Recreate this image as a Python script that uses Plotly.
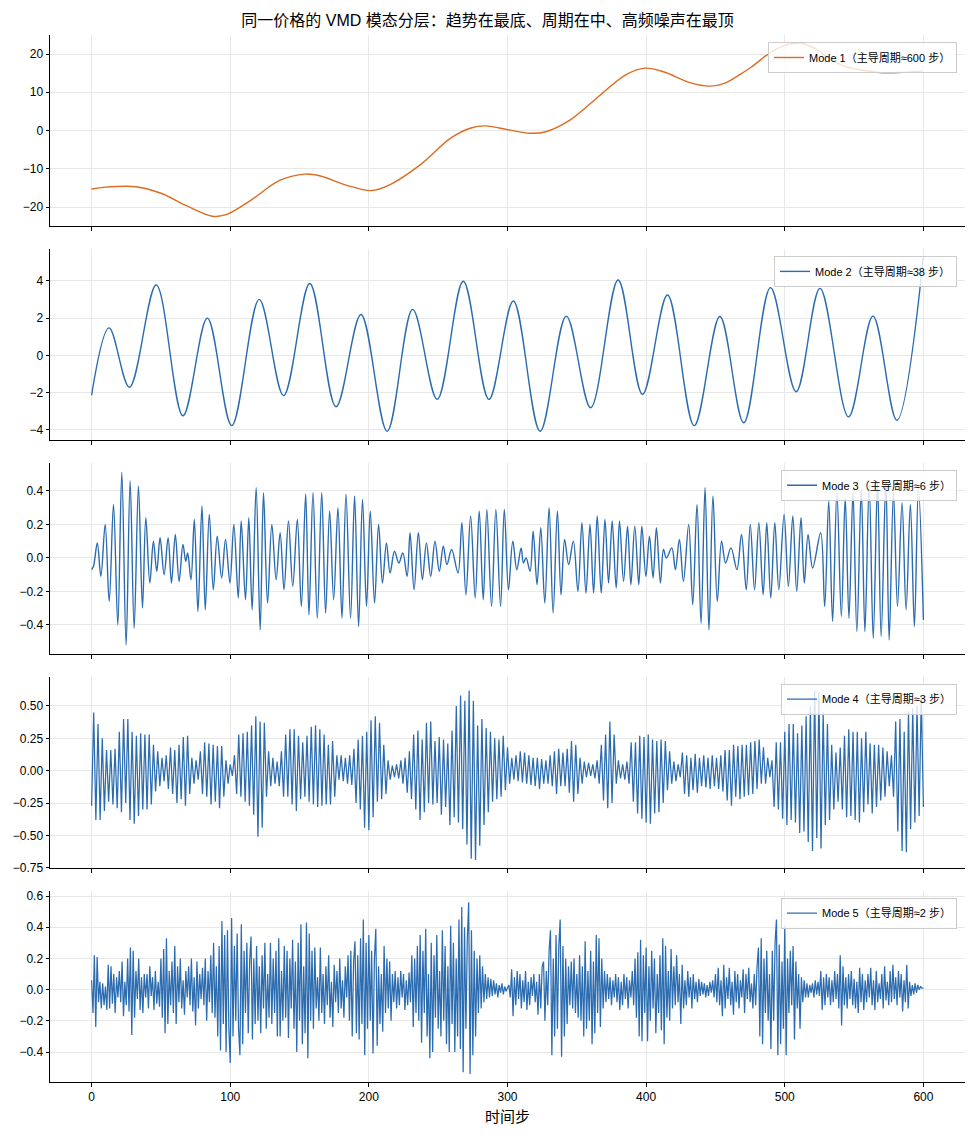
import numpy as np
import plotly.graph_objects as go
from plotly.subplots import make_subplots

# ---------------- text ----------------
title_text = "同一价格的 VMD 模态分层：趋势在最底、周期在中、高频噪声在最顶"
x_label = "时间步"
mode_names = [
    "Mode 1（主导周期≈600 步）",
    "Mode 2（主导周期≈38 步）",
    "Mode 3（主导周期≈6 步）",
    "Mode 4（主导周期≈3 步）",
    "Mode 5（主导周期≈2 步）",
]
x_ticks = [0, 100, 200, 300, 400, 500, 600]

# ---------------- data ----------------
# Mode 1: trend, (step, value) knots
mode1_points = [
    (0, -15.3), (10, -14.8), (32, -14.7), (50, -16.4), (68, -19.6), (87, -22.4),
    (97, -22.0), (115, -18.2), (136, -13.0), (154, -11.4), (165, -11.9),
    (183, -14.2), (202, -15.7), (215, -14.2), (237, -9.0), (259, -2.0),
    (273, 0.6), (284, 1.2), (302, 0.1), (316, -0.7), (327, -0.4), (345, 2.7),
    (367, 9.3), (385, 14.5), (399, 16.3), (413, 15.3), (431, 12.6),
    (446, 11.6), (457, 12.4), (467, 14.5), (476, 16.6), (487, 19.7),
    (498, 22.0), (511, 22.8), (522, 21.4), (532, 18.8), (543, 16.8),
    (552, 16.0), (571, 15.1), (585, 15.2), (600, 15.6),
]

# Mode 2: period ~38 steps, extrema (step, value)
mode2_points = [
    (0, -2.13), (12.6, 1.48), (27.3, -1.71), (46.6, 3.78), (65.9, -3.24),
    (83.5, 2.00), (101.1, -3.77), (120.9, 3.01), (138.5, -2.16), (157.4, 3.86),
    (176.3, -2.76), (194.3, 2.20), (213.2, -4.07), (231.6, 2.47), (249.3, -2.36),
    (268.1, 3.98), (286.6, -2.36), (304.2, 2.92), (323.5, -4.07), (342.4, 2.11),
    (360.0, -2.81), (379.8, 4.05), (397.4, -2.09), (415.4, 3.24), (434.7, -3.77),
    (453.2, 2.09), (470.4, -3.62), (489.7, 3.64), (508.2, -1.95), (525.4, 3.60),
    (546.0, -3.30), (563.6, 2.11), (580.8, -3.48), (600.0, 5.30),
]

# Mode 3: period ~6 steps, extrema (step, value)
mode3_points = [
    (0, -0.07), (1.4, -0.05), (4.1, 0.09), (6.7, -0.11), (9.8, 0.20), (12.7, -0.26),
    (15.8, 0.32), (18.9, -0.40), (21.8, 0.51), (24.9, -0.52), (27.8, 0.46),
    (30.7, -0.42), (33.8, 0.43), (36.7, -0.30), (39.1, 0.24), (42.0, -0.15),
    (44.6, 0.10), (47.0, -0.08), (49.4, 0.12), (52.3, -0.10), (55.2, 0.12),
    (57.6, -0.15), (60.4, 0.14), (63.1, -0.14), (65.9, 0.08), (67.9, -0.02),
    (69.3, 0.03), (71.7, -0.13), (74.1, 0.23), (76.7, -0.32), (79.6, 0.31),
    (82.0, -0.31), (84.9, 0.26), (87.8, -0.19), (90.6, 0.13), (93.8, -0.12),
    (96.6, 0.11), (99.8, -0.15), (102.6, 0.20), (105.8, -0.24), (107.9, 0.22),
    (111.0, -0.25), (113.4, 0.24), (115.8, -0.31), (118.7, 0.42), (121.6, -0.43),
    (124.0, 0.39), (126.9, -0.27), (130.0, 0.20), (133.1, -0.13), (136.0, 0.15),
    (138.8, -0.19), (142.0, 0.22), (145.1, -0.17), (148.4, 0.23), (151.3, -0.29),
    (154.4, 0.38), (156.8, -0.34), (159.7, 0.39), (162.8, -0.36), (166.0, 0.39),
    (168.8, -0.33), (171.7, 0.28), (174.6, -0.25), (177.7, 0.30), (180.6, -0.36),
    (183.5, 0.38), (186.8, -0.36), (189.7, 0.37), (192.6, -0.41), (195.4, 0.35),
    (198.3, -0.29), (201.0, 0.28), (204.1, -0.27), (207.0, 0.20), (209.8, -0.15),
    (212.7, 0.09), (215.3, -0.09), (218.5, 0.04), (221.6, -0.03), (224.5, 0.03),
    (227.6, -0.11), (229.7, 0.15), (232.6, -0.19), (235.7, 0.15), (238.6, -0.13),
    (241.5, 0.09), (244.6, -0.11), (247.7, 0.10), (250.8, -0.08), (253.7, 0.07),
    (256.3, -0.04), (259.7, 0.05), (264.3, -0.09), (267.1, 0.21), (270.0, -0.22),
    (273.4, 0.25), (276.7, -0.24), (279.6, 0.28), (282.5, -0.25), (285.1, 0.29),
    (288.5, -0.29), (291.6, 0.29), (295.0, -0.29), (297.7, 0.29), (300.7, -0.19),
    (303.8, 0.10), (306.7, -0.07), (309.8, 0.06), (311.5, -0.03), (313.4, 0.00),
    (316.3, -0.08), (318.5, 0.16), (321.3, -0.16), (324.0, 0.18), (326.9, -0.27),
    (330.0, 0.30), (332.9, -0.33), (336.0, 0.28), (338.6, -0.22), (341.2, 0.11),
    (344.1, -0.04), (347.5, 0.10), (350.8, -0.20), (353.7, 0.21), (356.6, -0.21),
    (359.5, 0.20), (362.1, -0.21), (364.7, 0.25), (367.6, -0.21), (370.3, 0.23),
    (372.9, -0.15), (375.5, 0.22), (378.4, -0.18), (380.8, 0.22), (383.7, -0.14),
    (386.6, 0.19), (389.0, -0.16), (391.8, 0.19), (394.7, -0.16), (396.9, 0.19),
    (399.8, -0.11), (402.4, 0.13), (405.0, -0.12), (407.4, 0.18), (410.3, -0.15),
    (412.5, 0.05), (414.6, 0.00), (418.5, 0.06), (421.1, -0.07), (424.0, 0.11),
    (426.9, -0.14), (430.7, 0.20), (433.6, -0.28), (436.7, 0.32), (439.6, -0.39),
    (442.5, 0.42), (445.3, -0.43), (448.2, 0.37), (451.3, -0.26), (454.4, 0.10),
    (457.3, -0.03), (461.2, 0.06), (465.5, -0.07), (468.8, 0.14), (472.2, -0.19),
    (475.1, 0.20), (478.2, -0.19), (481.3, 0.21), (484.4, -0.22), (487.0, 0.21),
    (489.9, -0.24), (492.8, 0.21), (495.7, -0.19), (499.5, 0.26), (502.6, -0.17),
    (505.8, 0.25), (508.6, -0.20), (511.7, 0.24), (514.1, -0.15), (516.8, 0.14),
    (520.1, -0.06), (525.9, 0.15), (528.8, -0.29), (531.7, 0.34), (534.5, -0.38),
    (537.6, 0.39), (540.8, -0.35), (543.6, 0.36), (546.3, -0.36), (549.2, 0.39),
    (552.0, -0.44), (555.2, 0.41), (557.8, -0.44), (560.9, 0.44), (563.8, -0.48),
    (566.9, 0.45), (569.5, -0.47), (572.9, 0.46), (575.3, -0.49), (578.4, 0.39),
    (581.3, -0.29), (584.6, 0.33), (587.5, -0.31), (590.6, 0.32), (593.5, -0.41),
    (596.4, 0.42), (600.0, -0.37),
]

# Mode 4: period ~3 steps; alternating extrema, each row spans 20 steps
mode4_rows = [
    [-0.27, 0.45, -0.38, 0.36, -0.38, 0.25, -0.31, 0.16, -0.24, 0.16, -0.26, 0.17, -0.29],
    [0.30, -0.32, 0.40, -0.25, 0.40, -0.38, 0.30, -0.41, 0.27, -0.35, 0.29, -0.30, 0.28],
    [-0.30, 0.28, -0.26, 0.20, -0.16, 0.15, -0.12, 0.10, -0.08, 0.12, -0.14, 0.18, -0.18],
    [0.16, -0.25, 0.20, -0.22, 0.26, -0.27, 0.27, -0.18, 0.10, -0.10, 0.08, -0.07, 0.15],
    [-0.18, 0.22, -0.20, 0.21, -0.26, 0.20, -0.24, 0.19, -0.29, 0.19, -0.20, 0.08, -0.10],
    [0.05, -0.04, 0.12, -0.18, 0.28, -0.20, 0.29, -0.24, 0.30, -0.27, 0.35, -0.34, 0.42],
    [-0.51, 0.38, -0.44, 0.37, -0.20, 0.15, -0.12, 0.10, -0.10, 0.07, -0.12, 0.15, -0.20],
    [0.28, -0.20, 0.32, -0.26, 0.32, -0.31, 0.27, -0.22, 0.22, -0.20, 0.27, -0.24, 0.34],
    [-0.26, 0.35, -0.28, 0.32, -0.27, 0.28, -0.26, 0.20, -0.26, 0.23, -0.20, 0.12, -0.07],
    [0.12, -0.08, 0.10, -0.10, 0.12, -0.11, 0.17, -0.25, 0.24, -0.30, 0.27, -0.44, 0.30],
    [-0.46, 0.39, -0.36, 0.42, -0.24, 0.37, -0.22, 0.20, -0.18, 0.08, -0.07, 0.04, -0.05],
    [0.05, -0.06, 0.08, -0.10, 0.10, -0.17, 0.15, -0.22, 0.28, -0.30, 0.31, -0.38, 0.24],
    [-0.32, 0.37, -0.25, 0.38, -0.26, 0.23, -0.25, 0.26, -0.34, 0.24, -0.28, 0.21, -0.42],
    [0.31, -0.36, 0.50, -0.40, 0.58, -0.45, 0.54, -0.57, 0.62, -0.68, 0.54, -0.69, 0.35],
    [-0.58, 0.40, -0.42, 0.33, -0.32, 0.30, -0.24, 0.25, -0.22, 0.24, -0.20, 0.27, -0.15],
    [0.18, -0.10, 0.10, -0.07, 0.12, -0.08, 0.15, -0.09, 0.14, -0.10, 0.12, -0.11, 0.10],
    [-0.12, 0.10, -0.14, 0.09, -0.10, 0.08, -0.10, 0.12, -0.12, 0.15, -0.18, 0.17, -0.12],
    [0.14, -0.12, 0.17, -0.17, 0.23, -0.24, 0.20, -0.18, 0.10, -0.10, 0.07, -0.05, 0.06],
    [-0.04, 0.05, -0.06, 0.08, -0.10, 0.20, -0.23, 0.28, -0.29, 0.38, -0.25, 0.28, -0.10],
    [0.08, -0.06, 0.05, -0.07, 0.07, -0.10, 0.22, -0.24, 0.22, -0.33, 0.27, -0.37, 0.26],
    [-0.40, 0.28, -0.41, 0.24, -0.33, 0.23, -0.32, 0.24, -0.25, 0.23, -0.15, 0.15, -0.10],
    [0.07, -0.08, 0.05, -0.05, 0.14, -0.18, 0.12, -0.20, 0.10, -0.15, 0.13, -0.17, 0.10],
    [-0.12, 0.12, -0.13, 0.10, -0.14, 0.12, -0.12, 0.10, -0.14, 0.12, -0.16, 0.16, -0.23],
    [0.16, -0.27, 0.20, -0.20, 0.19, -0.22, 0.20, -0.20, 0.20, -0.19, 0.22, -0.18, 0.23],
    [-0.14, 0.24, -0.10, 0.18, -0.10, 0.10, -0.05, 0.08, -0.28, 0.22, -0.30, 0.22, -0.37],
    [0.30, -0.42, 0.36, -0.38, 0.36, -0.40, 0.29, -0.48, 0.35, -0.47, 0.42, -0.55, 0.50],
    [-0.62, 0.62, -0.52, 0.60, -0.60, 0.45, -0.42, 0.36, -0.38, 0.20, -0.30, 0.14, -0.24],
    [0.18, -0.30, 0.27, -0.36, 0.32, -0.35, 0.30, -0.38, 0.30, -0.40, 0.25, -0.32, 0.30],
    [-0.26, 0.21, -0.33, 0.20, -0.28, 0.20, -0.23, 0.18, -0.20, 0.15, -0.12, 0.12, -0.20],
    [0.38, -0.47, 0.40, -0.62, 0.30, -0.63, 0.46, -0.45, 0.48, -0.40, 0.50, -0.35, 0.58],
    [-0.28],
]

# Mode 5: period ~2 steps; one value per step, each row = 20 steps
mode5_rows = [
    [0.06, -0.15, 0.22, -0.24, 0.21, -0.08, 0.05, -0.12, 0.04, -0.10, 0.02, -0.13, 0.16, -0.12, 0.15, -0.09, 0.10, -0.15, 0.08, -0.05],
    [0.12, -0.08, 0.18, -0.17, 0.05, -0.10, 0.20, -0.14, 0.27, -0.29, 0.25, -0.18, 0.12, -0.06, 0.20, -0.13, 0.08, -0.15, 0.10, -0.05],
    [0.10, -0.12, 0.15, -0.04, 0.08, -0.13, 0.12, -0.09, 0.05, -0.11, 0.20, -0.18, 0.26, -0.28, 0.33, -0.22, 0.12, -0.10, 0.18, -0.15],
    [0.28, -0.22, 0.15, -0.08, 0.20, -0.12, 0.06, -0.16, 0.12, -0.05, 0.15, -0.10, 0.20, -0.14, 0.08, -0.23, 0.18, -0.12, 0.10, -0.06],
    [0.14, -0.10, 0.20, -0.20, 0.12, -0.08, 0.22, -0.15, 0.30, -0.18, 0.15, -0.30, 0.28, -0.39, 0.44, -0.22, 0.35, -0.40, 0.38, -0.25],
    [-0.47, 0.46, -0.30, 0.28, -0.20, 0.36, -0.25, -0.42, 0.42, -0.35, 0.25, -0.15, 0.30, -0.28, 0.18, 0.34, -0.32, 0.20, -0.22, 0.28],
    [-0.20, 0.15, -0.28, 0.22, -0.12, 0.30, -0.25, 0.10, -0.18, 0.30, -0.22, 0.20, -0.15, 0.25, -0.30, 0.33, -0.30, 0.12, -0.20, 0.28],
    [-0.18, 0.25, -0.31, 0.20, -0.12, 0.32, -0.25, 0.18, -0.40, 0.30, -0.20, 0.42, -0.35, 0.15, -0.28, 0.43, -0.44, 0.36, -0.20, 0.25],
    [-0.25, 0.27, -0.12, 0.08, -0.20, 0.27, -0.15, 0.10, -0.22, 0.15, -0.10, 0.22, -0.18, 0.05, -0.24, 0.16, -0.08, 0.12, -0.15, 0.20],
    [-0.12, 0.06, -0.18, 0.15, -0.05, 0.22, -0.20, 0.25, -0.30, 0.18, 0.31, -0.28, 0.22, -0.32, 0.33, -0.22, 0.45, -0.42, 0.30, -0.25],
    [0.35, -0.20, 0.25, -0.41, 0.20, 0.39, -0.36, 0.15, -0.22, 0.10, -0.27, 0.28, -0.15, 0.20, -0.12, 0.18, -0.20, 0.10, -0.08, 0.12],
    [-0.12, 0.08, -0.10, 0.12, -0.05, 0.10, -0.13, 0.06, -0.10, 0.11, -0.08, 0.22, -0.24, 0.20, -0.15, 0.28, -0.20, 0.35, -0.34, 0.25],
    [-0.15, 0.39, -0.30, 0.10, -0.44, 0.30, -0.40, 0.22, -0.18, 0.35, -0.25, 0.12, -0.30, 0.38, -0.20, 0.28, -0.35, 0.15, -0.40, 0.41],
    [-0.22, 0.30, -0.40, 0.20, -0.30, 0.45, -0.38, 0.53, -0.53, 0.40, -0.25, 0.32, 0.56, -0.54, 0.38, -0.42, 0.25, -0.30, 0.20, -0.15],
    [0.22, -0.12, 0.15, -0.08, 0.10, -0.06, 0.08, -0.05, 0.07, -0.04, 0.06, -0.03, 0.04, -0.05, 0.03, -0.02, 0.04, -0.03, 0.02, -0.01],
    [0.01, 0.03, -0.05, 0.13, -0.17, 0.08, -0.10, 0.12, -0.06, 0.10, -0.12, 0.06, -0.08, 0.12, -0.13, 0.05, -0.10, 0.08, -0.04, 0.10],
    [-0.08, 0.05, -0.16, 0.10, -0.12, 0.15, 0.18, -0.20, 0.12, -0.10, 0.25, 0.38, -0.42, 0.20, -0.30, 0.35, -0.25, 0.28, 0.45, -0.43],
    [0.28, -0.30, 0.20, -0.22, 0.15, -0.10, 0.18, -0.12, 0.20, -0.15, 0.10, -0.18, 0.22, -0.20, 0.15, -0.30, 0.31, -0.25, 0.12, -0.20],
    [0.25, -0.35, 0.18, -0.28, 0.35, -0.15, 0.33, -0.24, 0.20, -0.12, 0.12, -0.08, 0.10, -0.06, 0.08, -0.10, 0.06, -0.05, 0.10, -0.08],
    [0.08, -0.13, 0.05, -0.10, 0.10, -0.06, 0.08, -0.12, 0.06, -0.05, 0.12, -0.10, 0.20, -0.18, 0.24, -0.30, 0.32, -0.33, 0.22, -0.15],
    [0.27, -0.33, 0.15, -0.20, 0.25, -0.12, 0.20, -0.28, 0.10, -0.15, 0.22, -0.26, 0.33, -0.35, 0.28, -0.18, 0.12, -0.20, 0.26, -0.12],
    [0.15, -0.10, 0.22, -0.08, 0.10, -0.22, 0.16, -0.12, 0.06, -0.10, 0.12, -0.05, 0.08, -0.12, 0.10, -0.06, 0.05, -0.08, 0.07, -0.04],
    [0.05, -0.03, 0.04, -0.05, 0.03, -0.04, 0.05, -0.02, 0.06, -0.05, 0.10, -0.08, 0.14, -0.10, 0.06, -0.17, 0.16, -0.12, 0.08, -0.06],
    [0.14, -0.10, 0.05, -0.16, 0.12, -0.08, 0.10, -0.12, 0.06, -0.05, 0.13, -0.15, 0.10, -0.06, 0.14, -0.08, 0.04, -0.12, 0.10, -0.10],
    [0.15, 0.27, -0.30, 0.33, -0.35, 0.20, -0.15, 0.25, -0.20, 0.10, -0.38, 0.25, -0.20, 0.30, 0.45, -0.42, 0.29, -0.35, 0.18, -0.25],
    [0.41, -0.42, 0.20, -0.15, 0.25, -0.10, 0.28, -0.32, 0.18, -0.12, 0.10, -0.25, 0.08, -0.08, 0.06, -0.05, 0.04, -0.05, 0.03, -0.02],
    [0.04, -0.05, 0.06, -0.03, 0.05, -0.04, 0.12, -0.13, 0.08, -0.10, 0.10, -0.05, 0.08, -0.10, 0.06, -0.08, 0.12, -0.06, 0.10, -0.12],
    [0.22, -0.23, 0.15, -0.10, 0.08, -0.12, 0.10, -0.06, 0.12, -0.10, 0.07, -0.12, 0.05, -0.15, 0.14, -0.08, 0.10, -0.13, 0.06, -0.08],
    [0.10, -0.05, 0.14, -0.10, 0.06, -0.13, 0.12, -0.08, 0.04, -0.06, 0.10, -0.12, 0.15, -0.07, 0.05, -0.10, 0.12, -0.08, 0.16, -0.06],
    [0.08, -0.10, 0.12, -0.05, 0.10, -0.14, 0.06, -0.08, 0.16, -0.12, 0.05, -0.04, 0.03, -0.03, 0.04, -0.02, 0.03, 0.00, 0.02, 0.01],
    [0.01],
]

# ---------------- per-panel axis settings ----------------
y_ranges = [[-25.07, 24.97], [-4.56, 5.72], [-0.575, 0.568], [-0.752, 0.726], [-0.592, 0.635]]
y_ticks = [
    [-20, -10, 0, 10, 20],
    [-4, -2, 0, 2, 4],
    [-0.4, -0.2, 0.0, 0.2, 0.4],
    [-0.75, -0.5, -0.25, 0.0, 0.25, 0.5],
    [-0.4, -0.2, 0.0, 0.2, 0.4, 0.6],
]
y_formats = ["d", "d", ".1f", ".2f", ".1f"]

ORANGE = "#dd6b20"
BLUE = "#2b6cb0"
FONT = "Arial, 'Liberation Sans', 'Noto Sans CJK SC', sans-serif"

# ---------------- build series ----------------
m1x, m1y = zip(*mode1_points)
m2x, m2y = zip(*mode2_points)
m3x, m3y = zip(*mode3_points)
m4y = [v for row in mode4_rows for v in row]
m4x = np.linspace(0, 600, len(m4y))
m5y = [v for row in mode5_rows for v in row]
m5x = np.linspace(0, 600, len(m5y))

series = [
    (m1x, m1y, ORANGE, "spline"),
    (m2x, m2y, BLUE, "spline"),
    (m3x, m3y, BLUE, "spline"),
    (m4x, m4y, BLUE, "linear"),
    (m5x, m5y, BLUE, "linear"),
]

TOP, BOTTOM, HEIGHT, WIDTH = 35, 58, 1140, 975
PLOT_H = HEIGHT - TOP - BOTTOM
GAP = 22.5
PANEL_H = (PLOT_H - 4 * GAP) / 5

fig = make_subplots(rows=5, cols=1, shared_xaxes=True, vertical_spacing=GAP / PLOT_H)

for i, (xs, ys, col, shape) in enumerate(series):
    lg = "legend" if i == 0 else f"legend{i + 1}"
    line = dict(color=col, width=1.4, shape=shape)
    if shape == "spline":
        line["smoothing"] = 1.0
    else:
        line["width"] = 1.25
    fig.add_trace(
        go.Scatter(x=list(xs), y=list(ys), mode="lines", line=line,
                   name=mode_names[i], legend=lg, showlegend=True),
        row=i + 1, col=1,
    )

axis_common = dict(
    showline=True, linecolor="black", linewidth=1, mirror=False,
    ticks="outside", ticklen=3.5, tickwidth=1, tickcolor="black",
    showgrid=True, gridcolor="#e8e8e8", gridwidth=1, zeroline=False,
    tickfont=dict(family=FONT, size=12, color="black"),
)

for i in range(5):
    fig.update_yaxes(row=i + 1, col=1, range=y_ranges[i], tickvals=y_ticks[i],
                     tickformat=y_formats[i], **axis_common)
    fig.update_xaxes(row=i + 1, col=1, range=[-30, 630], tickvals=x_ticks,
                     **axis_common)

fig.update_xaxes(row=5, col=1, showticklabels=True,
                 title=dict(text=x_label, standoff=8,
                            font=dict(family=FONT, size=15, color="black")))

legend_layout = {}
for i in range(5):
    lg = "legend" if i == 0 else f"legend{i + 1}"
    top_px = i * (PANEL_H + GAP) + 7
    legend_layout[lg] = dict(
        x=(957 - 50) / (WIDTH - 50 - 10), y=1 - top_px / PLOT_H,
        xanchor="right", yanchor="top",
        bgcolor="rgba(255,255,255,0.8)", bordercolor="#cccccc", borderwidth=1,
        font=dict(family=FONT, size=11, color="black"),
        tracegroupgap=0,
    )

fig.update_layout(
    width=WIDTH, height=HEIGHT,
    margin=dict(l=50, r=10, t=TOP, b=BOTTOM),
    paper_bgcolor="white", plot_bgcolor="white",
    font=dict(family=FONT, size=12, color="black"),
    title=dict(text=title_text, x=0.5, xref="container", xanchor="center",
               y=1 - 20 / HEIGHT, yref="container", yanchor="middle",
               font=dict(family=FONT, size=16, color="black")),
    **legend_layout,
)

fig.write_html("out.html")
